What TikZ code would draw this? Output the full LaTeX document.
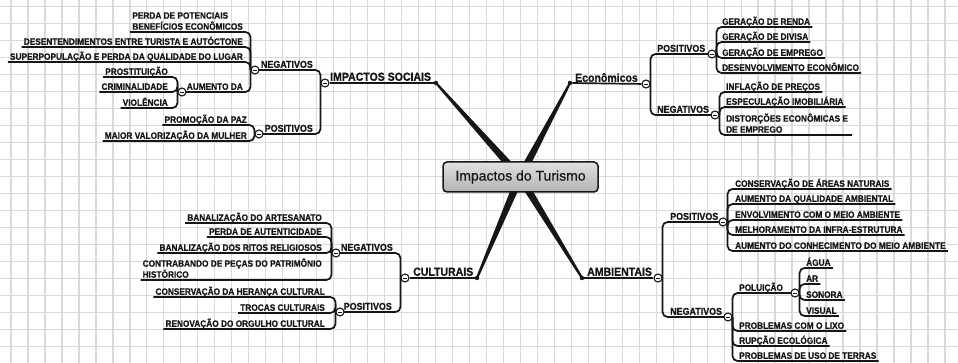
\documentclass[tikz,border=0pt]{standalone}
\usepackage{fontspec}
\setmainfont{Liberation Sans}
\newfontfamily\cnd{Liberation Sans}[FakeStretch=0.9, BoldFeatures={FakeBold=0.7}]
\newfontfamily\ctrfont{Liberation Sans}[FakeBold=0.5]
\usetikzlibrary{calc}
\definecolor{gridc}{RGB}{218,218,218}
\definecolor{ink}{RGB}{22,22,22}
\pgfdeclarelayer{gridlayer}
\pgfdeclarelayer{bg}
\pgfsetlayers{gridlayer,bg,main}
\newcommand\brwedge[2]{\fill[ink] ($(#1)!4pt!90:(#2)$) -- ($(#2)!1.1pt!-90:(#1)$) -- ($(#2)!1.1pt!90:(#1)$) -- ($(#1)!4pt!-90:(#2)$) -- cycle;}
\tikzset{
  txt/.style={inner xsep=2pt, inner ysep=2pt, text=ink},
  lv1/.style={txt, text depth=0pt, font=\cnd\bfseries\fontsize{11.7}{13}\selectfont},
  lv2/.style={txt, text depth=0pt, font=\cnd\bfseries\fontsize{9.9}{11}\selectfont},
  lv3/.style={txt, text depth=0pt, font=\cnd\bfseries\fontsize{9.2}{11}\selectfont},
  lv3m/.style={txt, align=left, font=\cnd\bfseries\fontsize{9.2}{11}\selectfont},
  L/.style={anchor=south east},
  R/.style={anchor=south west},
  con/.style={draw=ink, line width=1.7pt, rounded corners=5pt},
  coll/.style={circle, draw=ink, fill=white, line width=1.1pt, minimum size=8pt, inner sep=0pt,
    path picture={\draw[ink,line width=0.9pt] ([xshift=-2.2pt]path picture bounding box.center) -- ([xshift=2.2pt]path picture bounding box.center);}},
  dotn/.style={circle, fill=ink, minimum size=4.5pt, inner sep=0pt},
  central/.style={draw=ink, line width=1.5pt, rounded corners=4pt, top color=black!12, bottom color=black!30,
    minimum width=155pt, minimum height=30pt, inner sep=0pt, text=ink, font=\ctrfont\fontsize{14}{16}\selectfont}
}
\begin{document}
\begin{tikzpicture}[x=1pt,y=-1pt]
\useasboundingbox (0,0) rectangle (958,363);
\begin{pgfonlayer}{gridlayer}
\fill[white] (0,0) rectangle (958,363);
\foreach \k in {0,...,55} \draw[gridc,line width=1.3pt] ({11+16.98*\k},0) -- ({11+16.98*\k},363);
\foreach \k in {0,...,21} \draw[gridc,line width=1.3pt] (0,{6.6+16.98*\k}) -- (958,{6.6+16.98*\k});
\end{pgfonlayer}

% centre and main branches
\coordinate (m) at (520,177);
\node[central] (ctr) at (520.5,177) {Impactos do Turismo};
\node[dotn] (dS) at (436,83) {};
\node[dotn] (dE) at (570,83) {};
\node[dotn] (dC) at (477,278) {};
\node[dotn] (dA) at (582,278) {};

% collapse circles
\node[coll] (cS) at (325,83) {};
\node[coll] (csN) at (255,70) {};
\node[coll] (cAum) at (182,92) {};
\node[coll] (csP) at (259,134) {};
\node[coll] (cE) at (646,84) {};
\node[coll] (ceP) at (712,54) {};
\node[coll] (ceN) at (715,115) {};
\node[coll] (cC) at (405,278) {};
\node[coll] (ccN) at (336,253) {};
\node[coll] (ccP) at (340,312) {};
\node[coll] (cA) at (658,278) {};
\node[coll] (caP) at (723,222) {};
\node[coll] (caN) at (728,317) {};
\node[coll] (cPol) at (795,293) {};

% level 1 labels
\node[lv1,R] (tS) at (328,83) {IMPACTOS SOCIAIS};
\node[lv1,R] (tE) at (573,84) {Econômicos};
\node[lv1,R] (tC) at (411,278) {CULTURAIS};
\node[lv1,R] (tA) at (585,278) {AMBIENTAIS};

% level 2 labels
\node[lv2,L] (sN) at (315,70) {NEGATIVOS};
\node[lv2,L] (sP) at (315,134) {POSITIVOS};
\node[lv2,R] (eP) at (655,54) {POSITIVOS};
\node[lv2,R] (eN) at (655,115) {NEGATIVOS};
\node[lv2,L] (cN) at (395,253) {NEGATIVOS};
\node[lv2,L] (cP) at (394,312) {POSITIVOS};
\node[lv2,R] (aP) at (668,222) {POSITIVOS};
\node[lv2,R] (aN) at (668,317) {NEGATIVOS};
\node[lv3,L] (sAum) at (245,92) {AUMENTO DA};
\node[lv3,R] (aPol) at (737,293) {POLUIÇÃO};

% social leaves
\node[lv3m,L] (s1) at (245,32) {PERDA DE POTENCIAIS\\BENEFÍCIOS ECONÔMICOS};
\node[lv3,L] (s2) at (245,47) {DESENTENDIMENTOS ENTRE TURISTA E AUTÓCTONE};
\node[lv3,L] (s3) at (245,62) {SUPERPOPULAÇÃO E PERDA DA QUALIDADE DO LUGAR};
\node[lv3,L] (s4) at (170,77) {PROSTITUIÇÃO};
\node[lv3,L] (s5) at (170,92) {CRIMINALIDADE};
\node[lv3,L] (s6) at (170,108) {VIOLÊNCIA};
\node[lv3,L] (s7) at (249,125) {PROMOÇÃO DA PAZ};
\node[lv3,L] (s8) at (249,141) {MAIOR VALORIZAÇÃO DA MULHER};

% economic leaves
\node[lv3,R] (e1) at (720,27) {GERAÇÃO DE RENDA};
\node[lv3,R] (e2) at (720,42) {GERAÇÃO DE DIVISA};
\node[lv3,R] (e3) at (720,58) {GERAÇÃO DE EMPREGO};
\node[lv3,R] (e4) at (720,73) {DESENVOLVIMENTO ECONÔMICO};
\node[lv3,R] (e5) at (724,92) {INFLAÇÃO DE PREÇOS};
\node[lv3,R] (e6) at (724,107) {ESPECULAÇÃO IMOBILIÁRIA};
\node[lv3m,R,inner xsep=4pt] (e7) at (722,135) {DISTORÇÕES ECONÔMICAS E\\DE EMPREGO};

% cultural leaves
\node[lv3,L] (c1) at (324,223) {BANALIZAÇÃO DO ARTESANATO};
\node[lv3,L] (c2) at (324,237) {PERDA DE AUTENTICIDADE};
\node[lv3,L] (c3) at (324,253) {BANALIZAÇÃO DOS RITOS RELIGIOSOS};
\node[lv3m,L] (c4) at (324,280) {CONTRABANDO DE PEÇAS DO PATRIMÔNIO\\HISTÓRICO};
\node[lv3,L] (c5) at (327,297) {CONSERVAÇÃO DA HERANÇA CULTURAL};
\node[lv3,L] (c6) at (327,313) {TROCAS CULTURAIS};
\node[lv3,L] (c7) at (327,329) {RENOVAÇÃO DO ORGULHO CULTURAL};

% environmental leaves
\node[lv3,R] (a1) at (733,189) {CONSERVAÇÃO DE ÁREAS NATURAIS};
\node[lv3,R] (a2) at (733,204) {AUMENTO DA QUALIDADE AMBIENTAL};
\node[lv3,R] (a3) at (733,220) {ENVOLVIMENTO COM O MEIO AMBIENTE};
\node[lv3,R] (a4) at (733,235) {MELHORAMENTO DA INFRA-ESTRUTURA};
\node[lv3,R] (a5) at (733,251) {AUMENTO DO CONHECIMENTO DO MEIO AMBIENTE};
\node[lv3,R] (a6) at (737,331) {PROBLEMAS COM O LIXO};
\node[lv3,R] (a7) at (737,346) {RUPÇÃO ECOLÓGICA};
\node[lv3,R] (a8) at (737,361) {PROBLEMAS DE USO DE TERRAS};
\node[lv3,R] (p1) at (804,268) {ÁGUA};
\node[lv3,R] (p2) at (804,284) {AR};
\node[lv3,R] (p3) at (804,300) {SONORA};
\node[lv3,R] (p4) at (804,316) {VISUAL};

\begin{pgfonlayer}{bg}
\brwedge{m}{dS}
\brwedge{m}{dE}
\brwedge{m}{dC}
\brwedge{m}{dA}
\draw[con] (dS) -- (cS);
\draw[con] (dE) -- (cE);
\draw[con] (dC) -- (cC);
\draw[con] (dA) -- (cA);
% social
\draw[con] (cS.west) |- (csN.center);
\draw[con] (cS.west) |- (csP.center);
\foreach \n in {s1,s2,s3} \draw[con] (csN.west) |- (\n.south west);
\draw[con] (csN.west) |- (cAum.center);
\foreach \n in {s4,s5,s6} \draw[con] (cAum.west) |- (\n.south west);
\foreach \n in {s7,s8} \draw[con] (csP.west) |- (\n.south west);
% economic
\draw[con] (cE.east) |- (ceP.center);
\draw[con] (cE.east) |- (ceN.center);
\foreach \n in {e1,e2,e3,e4} \draw[con] (ceP.east) |- (\n.south east);
\foreach \n in {e5,e6,e7} \draw[con] (ceN.east) |- (\n.south east);
% cultural
\draw[con] (cC.west) |- (ccN.center);
\draw[con] (cC.west) |- (ccP.center);
\foreach \n in {c1,c2,c3,c4} \draw[con] (ccN.west) |- (\n.south west);
\foreach \n in {c5,c6,c7} \draw[con] (ccP.west) |- (\n.south west);
% environmental
\draw[con] (cA.east) |- (caP.center);
\draw[con] (cA.east) |- (caN.center);
\foreach \n in {a1,a2,a3,a4,a5} \draw[con] (caP.east) |- (\n.south east);
\draw[con] (caN.east) |- (cPol.center);
\foreach \n in {a6,a7,a8} \draw[con] (caN.east) |- (\n.south east);
\foreach \n in {p1,p2,p3,p4} \draw[con] (cPol.east) |- (\n.south east);
\end{pgfonlayer}
\end{tikzpicture}
\end{document}
